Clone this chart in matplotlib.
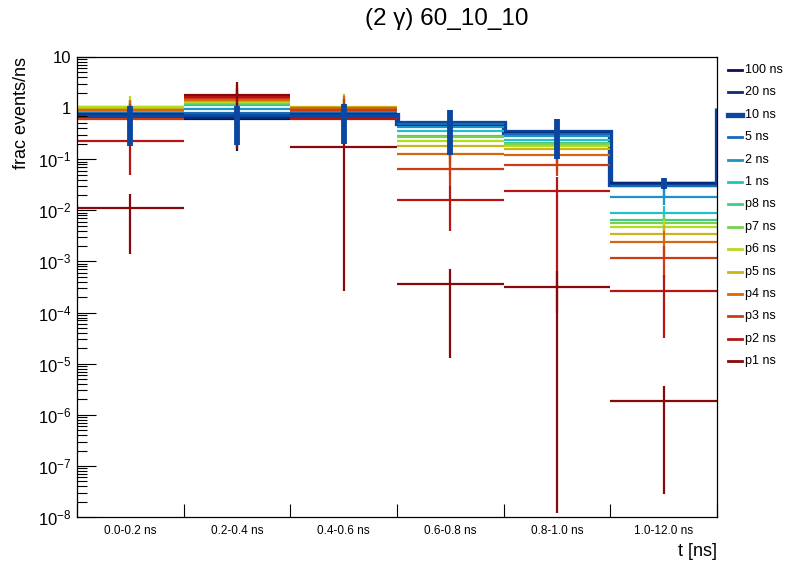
import numpy as np
import matplotlib
matplotlib.use("Agg")
import matplotlib.pyplot as plt
from matplotlib.lines import Line2D
from matplotlib.ticker import FixedLocator, NullFormatter, FuncFormatter

plt.rcParams["font.family"] = ["Liberation Sans", "DejaVu Sans"]
plt.rcParams["mathtext.fontset"] = "custom"
plt.rcParams["mathtext.rm"] = "Liberation Sans"
plt.rcParams["mathtext.it"] = "Liberation Sans:italic"

# bins of the time histogram
bin_labels = ["0.0-0.2 ns", "0.2-0.4 ns", "0.4-0.6 ns", "0.6-0.8 ns", "0.8-1.0 ns", "1.0-12.0 ns"]

series_labels = ["100 ns", "20 ns", "10 ns", "5 ns", "2 ns", "1 ns", "p8 ns",
                 "p7 ns", "p6 ns", "p5 ns", "p4 ns", "p3 ns", "p2 ns", "p1 ns"]

series_colors = ["#0a0f5c", "#0a2a78", "#0b47a0", "#1669b5", "#1b92c8", "#23c0cb", "#47c98a",
                 "#79d04e", "#b4dc1f", "#c9b51a", "#d2690f", "#cd3b12", "#b81414", "#870909"]

# values per bin (frac events/ns)
v_100 = [0.79, 0.61, 0.83, 0.44, 0.32, 0.034]
v_20 = [0.80, 0.64, 0.80, 0.47, 0.33, 0.034]
v_10 = [0.70, 0.70, 0.74, 0.51, 0.345, 0.0334]
v_5 = [0.84, 0.79, 0.85, 0.48, 0.31, 0.030]
v_2 = [0.86, 0.94, 0.88, 0.42, 0.28, 0.018]
v_1 = [0.88, 1.15, 0.92, 0.353, 0.243, 0.0088]
v_p8 = [1.05, 1.22, 0.96, 0.29, 0.205, 0.0066]
v_p7 = [1.06, 1.27, 0.99, 0.27, 0.195, 0.0056]
v_p6 = [1.03, 1.33, 1.02, 0.225, 0.18, 0.0047]
v_p5 = [0.98, 1.40, 1.06, 0.18, 0.155, 0.0035]
v_p4 = [0.93, 1.47, 1.00, 0.124, 0.12, 0.0024]
v_p3 = [0.60, 1.55, 0.93, 0.065, 0.076, 0.00118]
v_p2 = [0.23, 1.68, 0.62, 0.0157, 0.0238, 2.6e-4]
v_p1 = [0.0112, 1.82, 0.17, 3.7e-4, 3.2e-4, 1.84e-6]

# lower / upper ends of the error bars
lo_100 = [0.22, 0.145, 0.22, 0.15, 0.11, 0.027]
hi_100 = [1.1, 1.05, 1.1, 0.85, 0.6, 0.041]
lo_20 = [0.22, 0.17, 0.22, 0.15, 0.11, 0.027]
hi_20 = [1.1, 1.05, 1.1, 0.85, 0.6, 0.041]
lo_10 = [0.18, 0.19, 0.195, 0.12, 0.102, 0.026]
hi_10 = [1.12, 1.12, 1.2, 0.9, 0.62, 0.042]
lo_5 = [0.25, 0.22, 0.25, 0.15, 0.12, 0.019]
hi_5 = [1.1, 1.1, 1.1, 0.8, 0.55, 0.038]
lo_2 = [0.3, 0.3, 0.3, 0.14, 0.11, 0.0125]
hi_2 = [1.1, 1.3, 1.1, 0.7, 0.5, 0.025]
lo_1 = [0.3, 0.4, 0.3, 0.13, 0.1, 0.006]
hi_1 = [1.2, 1.8, 1.2, 0.6, 0.45, 0.012]
lo_p8 = [0.35, 0.45, 0.35, 0.12, 0.1, 0.0045]
hi_p8 = [1.3, 1.9, 1.3, 0.5, 0.35, 0.009]
lo_p7 = [0.35, 0.5, 0.35, 0.11, 0.1, 0.004]
hi_p7 = [1.4, 1.9, 1.4, 0.45, 0.33, 0.0075]
lo_p6 = [0.35, 0.5, 0.35, 0.1, 0.09, 0.004]
hi_p6 = [1.75, 2.0, 1.5, 0.4, 0.3, 0.0065]
lo_p5 = [0.35, 0.5, 0.3, 0.08, 0.08, 0.004]
hi_p5 = [1.4, 2.2, 1.93, 0.33, 0.26, 0.005]
lo_p4 = [0.3, 0.5, 0.3, 0.05, 0.06, 0.0013]
hi_p4 = [1.47, 2.3, 1.71, 0.25, 0.21, 0.004]
lo_p3 = [0.2, 0.5, 0.25, 0.03, 0.047, 4.8e-4]
hi_p3 = [1.2, 2.5, 1.52, 0.2, 0.15, 0.002]
lo_p2 = [0.05, 0.3, 0.3, 0.0039, 1e-4, 3.2e-5]
hi_p2 = [0.5, 2.8, 1.0, 0.03, 0.045, 5.5e-4]
lo_p1 = [0.00137, 0.16, 2.6e-4, 1.3e-5, 1.2e-8, 2.8e-8]
hi_p1 = [0.0213, 3.2, 0.5, 7.2e-4, 6.5e-4, 3.7e-6]

# the 10 ns histogram line closes at the right edge up to this level
hist_close = 1.0

# y axis decades shown
decades = [-8, -7, -6, -5, -4, -3, -2, -1, 0, 1]

values = [v_100, v_20, v_10, v_5, v_2, v_1, v_p8, v_p7, v_p6, v_p5, v_p4, v_p3, v_p2, v_p1]
lows = [lo_100, lo_20, lo_10, lo_5, lo_2, lo_1, lo_p8, lo_p7, lo_p6, lo_p5, lo_p4, lo_p3, lo_p2, lo_p1]
highs = [hi_100, hi_20, hi_10, hi_5, hi_2, hi_1, hi_p8, hi_p7, hi_p6, hi_p5, hi_p4, hi_p3, hi_p2, hi_p1]

W, H = 796, 572
fig = plt.figure(figsize=(W / 100, H / 100), dpi=100)
ax = fig.add_axes([77 / W, 55 / H, 640 / W, 460 / H])

edges = np.arange(len(bin_labels) + 1)
centers = edges[:-1] + 0.5

thin = 1.6
thick = 3.8

for i, lab in enumerate(series_labels):
    if lab == "10 ns":
        continue
    col = series_colors[i]
    ax.hlines(values[i], edges[:-1], edges[1:], color=col, lw=thin)
    ax.vlines(centers, lows[i], highs[i], color=col, lw=thin)

# 10 ns drawn last, thick
i10 = series_labels.index("10 ns")
c10 = series_colors[i10]
ax.stairs(values[i10], edges, baseline=None, color=c10, lw=thick)
ax.vlines(edges[-1], values[i10][-1], hist_close, color=c10, lw=thick)
ax.vlines(centers, lows[i10], highs[i10], color=c10, lw=thick + 0.4)

ax.set_yscale("log")
ax.set_ylim(10.0 ** decades[0], 10.0 ** decades[-1])
ax.set_xlim(edges[0], edges[-1])

major_y = [10.0 ** k for k in decades]
minor_y = [m * 10.0 ** k for k in decades[:-1] for m in range(2, 10)]
ax.yaxis.set_major_locator(FixedLocator(major_y))
ax.yaxis.set_minor_locator(FixedLocator(minor_y))
ax.yaxis.set_minor_formatter(NullFormatter())


def ylab(y, pos):
    k = int(round(np.log10(y)))
    if k == 0:
        return "1"
    if k == 1:
        return "10"
    return r"$10^{%d}$" % k


ax.yaxis.set_major_formatter(FuncFormatter(ylab))
ax.tick_params(axis="y", which="major", direction="in", length=13.5, width=0.8,
               labelsize=12, pad=4, right=False)
ax.tick_params(axis="y", which="minor", direction="in", length=7.2, width=0.8, right=False)

ax.xaxis.set_major_locator(FixedLocator(edges))
ax.xaxis.set_minor_locator(FixedLocator(centers))
ax.xaxis.set_major_formatter(NullFormatter())
ax.set_xticklabels(bin_labels, minor=True)
ax.tick_params(axis="x", which="major", direction="in", length=9.4, width=0.8, top=False)
ax.tick_params(axis="x", which="minor", length=0, labelsize=8.5, pad=6, top=False)

for s in ax.spines.values():
    s.set_linewidth(0.9)

ax.set_ylabel("frac events/ns", fontsize=13, loc="top", labelpad=6)
ax.set_xlabel("t [ns]", fontsize=13, loc="right", labelpad=4)

fig.text(447 / W, 1 - 19 / H, "(2 γ) 60_10_10", fontsize=17.5, ha="center", va="center")

# legend on the right side
for i, lab in enumerate(series_labels):
    y = 1 - (70 + i * 22.4) / H
    lw = thick if lab == "10 ns" else 2.0
    fig.add_artist(Line2D([728 / W, 742 / W], [y, y], color=series_colors[i], lw=lw,
                          transform=fig.transFigure))
    fig.text(745 / W, y, lab, fontsize=9, ha="left", va="center")

fig.savefig("out.png", dpi=100)
